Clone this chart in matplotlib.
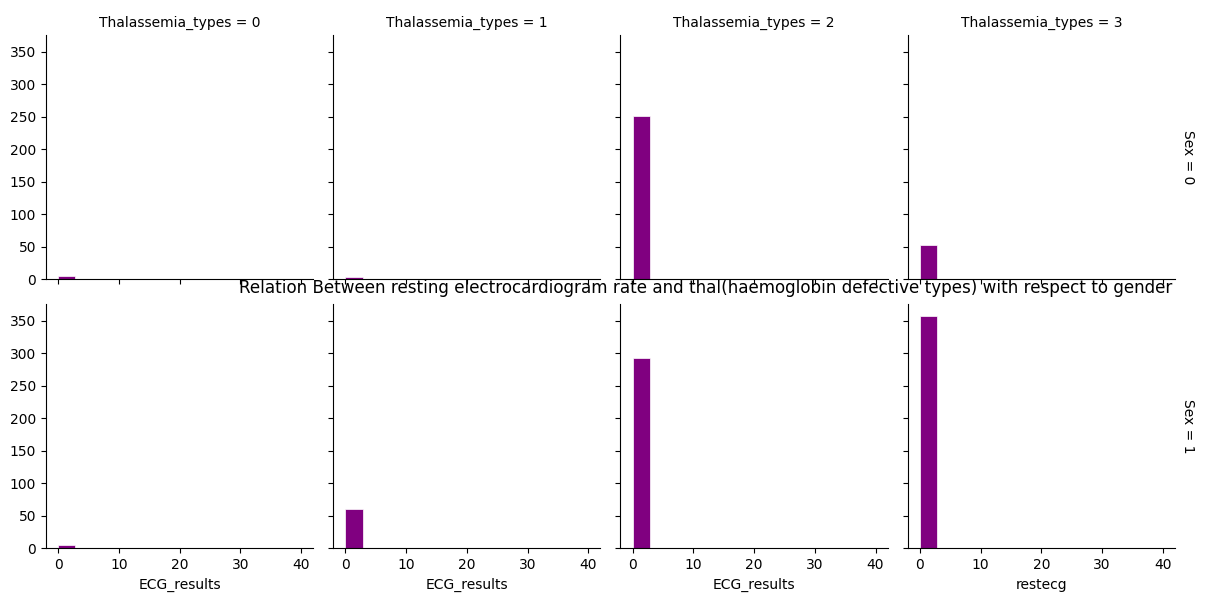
import numpy as np
import matplotlib.pyplot as plt

thal_types = [0, 1, 2, 3]
sexes = [0, 1]
# count in the first histogram bin (ECG value 0-2.86), rows = Sex, cols = Thalassemia_types
first_bin_counts = {
    0: [5, 4, 252, 53],
    1: [5, 61, 293, 358],
}
bin_edges = np.linspace(0, 40, 15)
xlabels = ["ECG_results", "ECG_results", "ECG_results", "restecg"]

fig, axes = plt.subplots(2, 4, figsize=(12.1, 5.94), dpi=100, sharex=True, sharey=True)
fig.subplots_adjust(left=0.038, right=0.971, top=0.941, bottom=0.077, wspace=0.075, hspace=0.1)

for r, sex in enumerate(sexes):
    for c, t in enumerate(thal_types):
        ax = axes[r, c]
        counts = np.zeros(len(bin_edges) - 1)
        counts[0] = first_bin_counts[sex][c]
        ax.bar(bin_edges[:-1], counts, width=np.diff(bin_edges), align='edge',
               color='purple', edgecolor='white', linewidth=0.5)
        ax.spines['top'].set_visible(False)
        ax.spines['right'].set_visible(False)
        if r == 0:
            ax.set_title("Thalassemia_types = %d" % t, fontsize=10)
        else:
            ax.set_xlabel(xlabels[c])
        if c == 3:
            ax.text(1.05, 0.5, "Sex = %d" % sex, rotation=270, transform=ax.transAxes,
                    va='center', ha='center', fontsize=10)

axes[0, 0].set_xlim(-2, 42)
axes[0, 0].set_ylim(0, 376)
axes[0, 0].set_xticks([0, 10, 20, 30, 40])
axes[0, 0].set_yticks(range(0, 351, 50))

fig.text(706 / 1210, 1 - 288 / 594,
         "Relation Between resting electrocardiogram rate and thal(haemoglobin defective types) with respect to gender",
         ha='center', va='center', fontsize=12.1)

fig.savefig("out.png")
